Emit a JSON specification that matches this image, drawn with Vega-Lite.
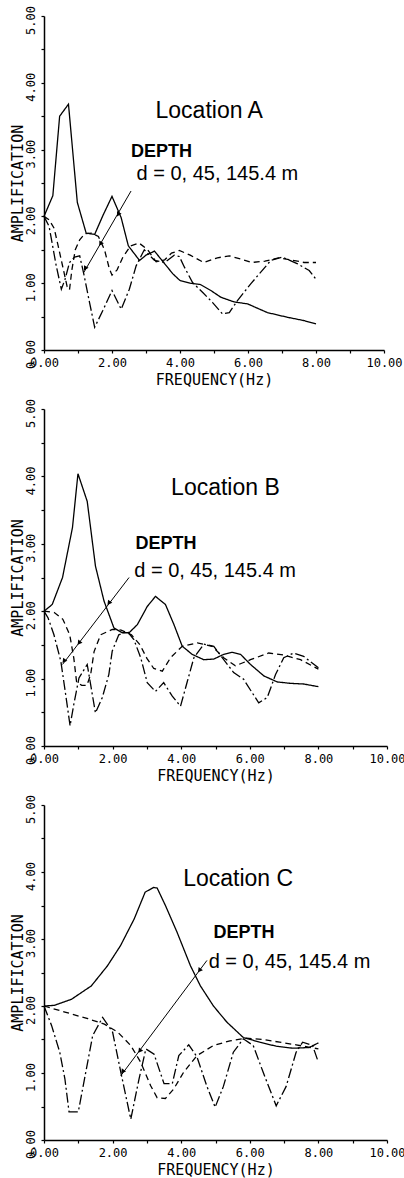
{
  "$schema": "https://vega.github.io/schema/vega-lite/v6.json",
  "padding": {"left": 10, "top": 5, "right": 0, "bottom": 2},
  "bounds": "flush",
  "spacing": 59,
  "config": {
    "view": {"stroke": null},
    "axis": {
      "domainColor": "black", "domainWidth": 1.5, "tickColor": "black", "tickWidth": 1.2, "tickSize": 3,
      "grid": false, "labelFont": "DejaVu Sans Mono", "labelFontSize": 12, "labelColor": "black",
      "titleFont": "DejaVu Sans Mono", "titleFontSize": 15, "titleFontWeight": "normal", "titleColor": "black",
      "labelPadding": 4, "titlePadding": 4, "labelOverlap": false, "labelFlush": false
    },
    "axisY": {"titlePadding": -1}
  },
  "datasets": {
    "curves": [
      {"p":"A","d":"0 m","f":0,"a":2.0},{"p":"A","d":"0 m","f":0.26,"a":2.31},{"p":"A","d":"0 m","f":0.46,"a":3.5},{"p":"A","d":"0 m","f":0.72,"a":3.68},{"p":"A","d":"0 m","f":0.98,"a":2.21},{"p":"A","d":"0 m","f":1.24,"a":1.75},{"p":"A","d":"0 m","f":1.49,"a":1.73},{"p":"A","d":"0 m","f":1.73,"a":2.01},{"p":"A","d":"0 m","f":2.0,"a":2.3},{"p":"A","d":"0 m","f":2.27,"a":1.98},{"p":"A","d":"0 m","f":2.48,"a":1.56},{"p":"A","d":"0 m","f":2.81,"a":1.34},{"p":"A","d":"0 m","f":3.0,"a":1.42},{"p":"A","d":"0 m","f":3.25,"a":1.48},{"p":"A","d":"0 m","f":3.44,"a":1.36},{"p":"A","d":"0 m","f":3.79,"a":1.14},{"p":"A","d":"0 m","f":4.0,"a":1.04},{"p":"A","d":"0 m","f":4.3,"a":1.0},{"p":"A","d":"0 m","f":4.6,"a":0.98},{"p":"A","d":"0 m","f":4.91,"a":0.89},{"p":"A","d":"0 m","f":5.2,"a":0.79},{"p":"A","d":"0 m","f":5.59,"a":0.72},{"p":"A","d":"0 m","f":5.99,"a":0.69},{"p":"A","d":"0 m","f":6.57,"a":0.56},{"p":"A","d":"0 m","f":7.16,"a":0.49},{"p":"A","d":"0 m","f":7.65,"a":0.44},{"p":"A","d":"0 m","f":8.0,"a":0.39},
      {"p":"A","d":"45 m","f":0,"a":2.0},{"p":"A","d":"45 m","f":0.15,"a":1.95},{"p":"A","d":"45 m","f":0.3,"a":1.82},{"p":"A","d":"45 m","f":0.42,"a":1.55},{"p":"A","d":"45 m","f":0.55,"a":1.25},{"p":"A","d":"45 m","f":0.68,"a":0.95},{"p":"A","d":"45 m","f":0.75,"a":0.9},{"p":"A","d":"45 m","f":0.82,"a":1.2},{"p":"A","d":"45 m","f":0.92,"a":1.5},{"p":"A","d":"45 m","f":1.05,"a":1.65},{"p":"A","d":"45 m","f":1.2,"a":1.74},{"p":"A","d":"45 m","f":1.4,"a":1.75},{"p":"A","d":"45 m","f":1.6,"a":1.7},{"p":"A","d":"45 m","f":1.78,"a":1.5},{"p":"A","d":"45 m","f":1.92,"a":1.22},{"p":"A","d":"45 m","f":2.0,"a":1.12},{"p":"A","d":"45 m","f":2.15,"a":1.2},{"p":"A","d":"45 m","f":2.32,"a":1.39},{"p":"A","d":"45 m","f":2.55,"a":1.56},{"p":"A","d":"45 m","f":2.8,"a":1.6},{"p":"A","d":"45 m","f":3.05,"a":1.5},{"p":"A","d":"45 m","f":3.3,"a":1.32},{"p":"A","d":"45 m","f":3.55,"a":1.35},{"p":"A","d":"45 m","f":3.75,"a":1.45},{"p":"A","d":"45 m","f":3.98,"a":1.49},{"p":"A","d":"45 m","f":4.3,"a":1.42},{"p":"A","d":"45 m","f":4.7,"a":1.31},{"p":"A","d":"45 m","f":5.1,"a":1.38},{"p":"A","d":"45 m","f":5.45,"a":1.41},{"p":"A","d":"45 m","f":5.8,"a":1.36},{"p":"A","d":"45 m","f":6.1,"a":1.31},{"p":"A","d":"45 m","f":6.5,"a":1.33},{"p":"A","d":"45 m","f":6.9,"a":1.38},{"p":"A","d":"45 m","f":7.25,"a":1.35},{"p":"A","d":"45 m","f":7.65,"a":1.31},{"p":"A","d":"45 m","f":8.0,"a":1.31},
      {"p":"A","d":"145.4 m","f":0,"a":2.0},{"p":"A","d":"145.4 m","f":0.15,"a":1.85},{"p":"A","d":"145.4 m","f":0.36,"a":1.26},{"p":"A","d":"145.4 m","f":0.51,"a":0.91},{"p":"A","d":"145.4 m","f":0.62,"a":1.06},{"p":"A","d":"145.4 m","f":0.75,"a":1.31},{"p":"A","d":"145.4 m","f":0.9,"a":1.39},{"p":"A","d":"145.4 m","f":1.05,"a":1.41},{"p":"A","d":"145.4 m","f":1.17,"a":1.14},{"p":"A","d":"145.4 m","f":1.34,"a":0.71},{"p":"A","d":"145.4 m","f":1.49,"a":0.34},{"p":"A","d":"145.4 m","f":1.73,"a":0.59},{"p":"A","d":"145.4 m","f":2.0,"a":0.89},{"p":"A","d":"145.4 m","f":2.27,"a":0.61},{"p":"A","d":"145.4 m","f":2.51,"a":0.91},{"p":"A","d":"145.4 m","f":2.71,"a":1.26},{"p":"A","d":"145.4 m","f":2.95,"a":1.5},{"p":"A","d":"145.4 m","f":3.25,"a":1.34},{"p":"A","d":"145.4 m","f":3.55,"a":1.31},{"p":"A","d":"145.4 m","f":3.83,"a":1.42},{"p":"A","d":"145.4 m","f":3.98,"a":1.4},{"p":"A","d":"145.4 m","f":4.13,"a":1.24},{"p":"A","d":"145.4 m","f":4.37,"a":1.01},{"p":"A","d":"145.4 m","f":4.67,"a":0.86},{"p":"A","d":"145.4 m","f":4.96,"a":0.71},{"p":"A","d":"145.4 m","f":5.25,"a":0.54},{"p":"A","d":"145.4 m","f":5.45,"a":0.56},{"p":"A","d":"145.4 m","f":5.69,"a":0.74},{"p":"A","d":"145.4 m","f":6.08,"a":0.99},{"p":"A","d":"145.4 m","f":6.67,"a":1.34},{"p":"A","d":"145.4 m","f":7.01,"a":1.39},{"p":"A","d":"145.4 m","f":7.46,"a":1.29},{"p":"A","d":"145.4 m","f":7.8,"a":1.19},{"p":"A","d":"145.4 m","f":8.0,"a":1.06},
      {"p":"B","d":"0 m","f":0,"a":2.0},{"p":"B","d":"0 m","f":0.24,"a":2.1},{"p":"B","d":"0 m","f":0.54,"a":2.5},{"p":"B","d":"0 m","f":0.83,"a":3.24},{"p":"B","d":"0 m","f":0.99,"a":4.04},{"p":"B","d":"0 m","f":1.26,"a":3.63},{"p":"B","d":"0 m","f":1.5,"a":2.67},{"p":"B","d":"0 m","f":1.75,"a":2.15},{"p":"B","d":"0 m","f":2.04,"a":1.75},{"p":"B","d":"0 m","f":2.28,"a":1.68},{"p":"B","d":"0 m","f":2.48,"a":1.68},{"p":"B","d":"0 m","f":2.72,"a":1.8},{"p":"B","d":"0 m","f":3.01,"a":2.07},{"p":"B","d":"0 m","f":3.25,"a":2.22},{"p":"B","d":"0 m","f":3.54,"a":2.1},{"p":"B","d":"0 m","f":3.79,"a":1.8},{"p":"B","d":"0 m","f":4.03,"a":1.48},{"p":"B","d":"0 m","f":4.32,"a":1.36},{"p":"B","d":"0 m","f":4.66,"a":1.28},{"p":"B","d":"0 m","f":4.95,"a":1.29},{"p":"B","d":"0 m","f":5.24,"a":1.36},{"p":"B","d":"0 m","f":5.49,"a":1.39},{"p":"B","d":"0 m","f":5.73,"a":1.36},{"p":"B","d":"0 m","f":6.02,"a":1.21},{"p":"B","d":"0 m","f":6.41,"a":1.04},{"p":"B","d":"0 m","f":6.8,"a":0.95},{"p":"B","d":"0 m","f":7.18,"a":0.93},{"p":"B","d":"0 m","f":7.57,"a":0.92},{"p":"B","d":"0 m","f":8.0,"a":0.88},
      {"p":"B","d":"45 m","f":0,"a":2.0},{"p":"B","d":"45 m","f":0.3,"a":1.98},{"p":"B","d":"45 m","f":0.55,"a":1.88},{"p":"B","d":"45 m","f":0.75,"a":1.65},{"p":"B","d":"45 m","f":0.87,"a":1.3},{"p":"B","d":"45 m","f":0.95,"a":0.95},{"p":"B","d":"45 m","f":1.1,"a":0.9},{"p":"B","d":"45 m","f":1.25,"a":0.9},{"p":"B","d":"45 m","f":1.36,"a":1.06},{"p":"B","d":"45 m","f":1.46,"a":1.4},{"p":"B","d":"45 m","f":1.65,"a":1.65},{"p":"B","d":"45 m","f":1.99,"a":1.73},{"p":"B","d":"45 m","f":2.25,"a":1.72},{"p":"B","d":"45 m","f":2.55,"a":1.65},{"p":"B","d":"45 m","f":2.8,"a":1.5},{"p":"B","d":"45 m","f":3.0,"a":1.3},{"p":"B","d":"45 m","f":3.2,"a":1.15},{"p":"B","d":"45 m","f":3.45,"a":1.11},{"p":"B","d":"45 m","f":3.69,"a":1.31},{"p":"B","d":"45 m","f":4.03,"a":1.48},{"p":"B","d":"45 m","f":4.47,"a":1.53},{"p":"B","d":"45 m","f":4.9,"a":1.48},{"p":"B","d":"45 m","f":5.24,"a":1.31},{"p":"B","d":"45 m","f":5.58,"a":1.19},{"p":"B","d":"45 m","f":6.02,"a":1.28},{"p":"B","d":"45 m","f":6.55,"a":1.38},{"p":"B","d":"45 m","f":6.98,"a":1.35},{"p":"B","d":"45 m","f":7.48,"a":1.28},{"p":"B","d":"45 m","f":8.0,"a":1.14},
      {"p":"B","d":"145.4 m","f":0,"a":2.0},{"p":"B","d":"145.4 m","f":0.12,"a":1.9},{"p":"B","d":"145.4 m","f":0.29,"a":1.65},{"p":"B","d":"145.4 m","f":0.49,"a":1.26},{"p":"B","d":"145.4 m","f":0.63,"a":0.77},{"p":"B","d":"145.4 m","f":0.76,"a":0.3},{"p":"B","d":"145.4 m","f":0.87,"a":0.62},{"p":"B","d":"145.4 m","f":1.02,"a":1.01},{"p":"B","d":"145.4 m","f":1.26,"a":1.21},{"p":"B","d":"145.4 m","f":1.36,"a":0.91},{"p":"B","d":"145.4 m","f":1.5,"a":0.49},{"p":"B","d":"145.4 m","f":1.7,"a":0.72},{"p":"B","d":"145.4 m","f":1.89,"a":1.06},{"p":"B","d":"145.4 m","f":1.99,"a":1.41},{"p":"B","d":"145.4 m","f":2.18,"a":1.65},{"p":"B","d":"145.4 m","f":2.43,"a":1.7},{"p":"B","d":"145.4 m","f":2.62,"a":1.58},{"p":"B","d":"145.4 m","f":2.82,"a":1.31},{"p":"B","d":"145.4 m","f":3.01,"a":0.94},{"p":"B","d":"145.4 m","f":3.25,"a":0.81},{"p":"B","d":"145.4 m","f":3.49,"a":0.94},{"p":"B","d":"145.4 m","f":3.74,"a":0.74},{"p":"B","d":"145.4 m","f":3.98,"a":0.59},{"p":"B","d":"145.4 m","f":4.18,"a":0.96},{"p":"B","d":"145.4 m","f":4.37,"a":1.31},{"p":"B","d":"145.4 m","f":4.66,"a":1.51},{"p":"B","d":"145.4 m","f":4.95,"a":1.48},{"p":"B","d":"145.4 m","f":5.24,"a":1.28},{"p":"B","d":"145.4 m","f":5.53,"a":1.09},{"p":"B","d":"145.4 m","f":5.82,"a":0.99},{"p":"B","d":"145.4 m","f":6.07,"a":0.79},{"p":"B","d":"145.4 m","f":6.26,"a":0.64},{"p":"B","d":"145.4 m","f":6.51,"a":0.72},{"p":"B","d":"145.4 m","f":6.75,"a":1.06},{"p":"B","d":"145.4 m","f":6.99,"a":1.31},{"p":"B","d":"145.4 m","f":7.28,"a":1.38},{"p":"B","d":"145.4 m","f":7.57,"a":1.33},{"p":"B","d":"145.4 m","f":8.0,"a":1.16},
      {"p":"C","d":"0 m","f":0,"a":2.0},{"p":"C","d":"0 m","f":0.3,"a":2.01},{"p":"C","d":"0 m","f":0.8,"a":2.1},{"p":"C","d":"0 m","f":1.38,"a":2.3},{"p":"C","d":"0 m","f":1.85,"a":2.6},{"p":"C","d":"0 m","f":2.23,"a":2.9},{"p":"C","d":"0 m","f":2.63,"a":3.3},{"p":"C","d":"0 m","f":2.95,"a":3.7},{"p":"C","d":"0 m","f":3.2,"a":3.77},{"p":"C","d":"0 m","f":3.3,"a":3.76},{"p":"C","d":"0 m","f":3.54,"a":3.5},{"p":"C","d":"0 m","f":3.88,"a":3.1},{"p":"C","d":"0 m","f":4.27,"a":2.6},{"p":"C","d":"0 m","f":4.56,"a":2.3},{"p":"C","d":"0 m","f":4.94,"a":2.0},{"p":"C","d":"0 m","f":5.33,"a":1.76},{"p":"C","d":"0 m","f":5.81,"a":1.53},{"p":"C","d":"0 m","f":6.29,"a":1.46},{"p":"C","d":"0 m","f":6.77,"a":1.4},{"p":"C","d":"0 m","f":7.25,"a":1.37},{"p":"C","d":"0 m","f":7.73,"a":1.38},{"p":"C","d":"0 m","f":8.0,"a":1.45},
      {"p":"C","d":"45 m","f":0,"a":2.0},{"p":"C","d":"45 m","f":0.61,"a":1.91},{"p":"C","d":"45 m","f":1.28,"a":1.81},{"p":"C","d":"45 m","f":1.76,"a":1.73},{"p":"C","d":"45 m","f":2.15,"a":1.61},{"p":"C","d":"45 m","f":2.53,"a":1.41},{"p":"C","d":"45 m","f":2.82,"a":1.16},{"p":"C","d":"45 m","f":3.11,"a":0.81},{"p":"C","d":"45 m","f":3.3,"a":0.63},{"p":"C","d":"45 m","f":3.54,"a":0.62},{"p":"C","d":"45 m","f":3.78,"a":0.76},{"p":"C","d":"45 m","f":4.07,"a":1.01},{"p":"C","d":"45 m","f":4.46,"a":1.26},{"p":"C","d":"45 m","f":4.94,"a":1.41},{"p":"C","d":"45 m","f":5.42,"a":1.48},{"p":"C","d":"45 m","f":5.9,"a":1.52},{"p":"C","d":"45 m","f":6.39,"a":1.5},{"p":"C","d":"45 m","f":6.87,"a":1.46},{"p":"C","d":"45 m","f":7.35,"a":1.42},{"p":"C","d":"45 m","f":8.0,"a":1.36},
      {"p":"C","d":"145.4 m","f":0,"a":2.0},{"p":"C","d":"145.4 m","f":0.22,"a":1.71},{"p":"C","d":"145.4 m","f":0.46,"a":1.31},{"p":"C","d":"145.4 m","f":0.61,"a":0.91},{"p":"C","d":"145.4 m","f":0.73,"a":0.42},{"p":"C","d":"145.4 m","f":1.0,"a":0.42},{"p":"C","d":"145.4 m","f":1.18,"a":0.91},{"p":"C","d":"145.4 m","f":1.42,"a":1.56},{"p":"C","d":"145.4 m","f":1.71,"a":1.83},{"p":"C","d":"145.4 m","f":2.0,"a":1.61},{"p":"C","d":"145.4 m","f":2.24,"a":1.01},{"p":"C","d":"145.4 m","f":2.53,"a":0.31},{"p":"C","d":"145.4 m","f":2.77,"a":0.91},{"p":"C","d":"145.4 m","f":2.97,"a":1.36},{"p":"C","d":"145.4 m","f":3.21,"a":1.28},{"p":"C","d":"145.4 m","f":3.5,"a":0.84},{"p":"C","d":"145.4 m","f":3.74,"a":0.84},{"p":"C","d":"145.4 m","f":3.93,"a":1.26},{"p":"C","d":"145.4 m","f":4.22,"a":1.42},{"p":"C","d":"145.4 m","f":4.46,"a":1.24},{"p":"C","d":"145.4 m","f":4.75,"a":0.8},{"p":"C","d":"145.4 m","f":4.99,"a":0.49},{"p":"C","d":"145.4 m","f":5.23,"a":0.8},{"p":"C","d":"145.4 m","f":5.52,"a":1.31},{"p":"C","d":"145.4 m","f":5.81,"a":1.51},{"p":"C","d":"145.4 m","f":6.1,"a":1.41},{"p":"C","d":"145.4 m","f":6.39,"a":1.01},{"p":"C","d":"145.4 m","f":6.77,"a":0.51},{"p":"C","d":"145.4 m","f":7.06,"a":0.8},{"p":"C","d":"145.4 m","f":7.35,"a":1.31},{"p":"C","d":"145.4 m","f":7.54,"a":1.46},{"p":"C","d":"145.4 m","f":7.83,"a":1.41},{"p":"C","d":"145.4 m","f":8.0,"a":1.16}
    ],
    "arrows": [
      {"p":"A","f":2.56,"a":2.38,"f2":1.17,"a2":1.16},
      {"p":"B","f":2.48,"a":2.5,"f2":0.54,"a2":1.21},
      {"p":"C","f":4.75,"a":2.68,"f2":2.24,"a2":0.96}
    ],
    "heads": [
      {"p":"A","f":1.21,"a":1.22},{"p":"A","f":2.18,"a":2.03},{"p":"A","f":1.66,"a":1.59},
      {"p":"B","f":0.58,"a":1.26},{"p":"B","f":1.02,"a":1.53},{"p":"B","f":1.89,"a":2.12},
      {"p":"C","f":2.29,"a":1.02},{"p":"C","f":2.79,"a":1.33},{"p":"C","f":4.53,"a":2.53}
    ],
    "labels": [
      {"p":"A","k":"loc","f":4.86,"a":3.58,"t":"Location A"},
      {"p":"A","k":"dep","f":2.56,"a":2.97,"t":"DEPTH"},
      {"p":"A","k":"d","f":2.72,"a":2.64,"t":"d = 0, 45, 145.4 m"},
      {"p":"B","k":"loc","f":5.29,"a":3.83,"t":"Location B"},
      {"p":"B","k":"dep","f":2.67,"a":2.99,"t":"DEPTH"},
      {"p":"B","k":"d","f":2.63,"a":2.6,"t":"d = 0, 45, 145.4 m"},
      {"p":"C","k":"loc","f":5.66,"a":3.9,"t":"Location C"},
      {"p":"C","k":"dep","f":4.94,"a":3.09,"t":"DEPTH"},
      {"p":"C","k":"d","f":4.8,"a":2.66,"t":"d = 0, 45, 145.4 m"}
    ]
  },
  "vconcat": [
    {
      "width": 340, "height": 334,
      "encoding": {
        "x": {"field": "f", "type": "quantitative", "scale": {"domain": [0, 10], "nice": false}, "axis": {"values": [0,1,2,3,4,5,6,7,8,9,10], "labelExpr": "datum.value % 2 === 0 ? format(datum.value, '.2f') : ''", "title": "FREQUENCY(Hz)"}},
        "y": {"field": "a", "type": "quantitative", "scale": {"domain": [0, 5], "nice": false}, "axis": {"values": [0,0.5,1,1.5,2,2.5,3,3.5,4,4.5,5], "labelExpr": "datum.value % 1 === 0 ? format(datum.value, '.2f') : ''", "labelAngle": -90, "labelOffset": 4, "title": "AMPLIFICATION"}}
      },
      "layer": [
        {"data": {"name": "curves"}, "transform": [{"filter": "datum.p === 'A'"}], "mark": {"type": "line", "color": "black", "strokeWidth": 1.3}, "encoding": {"strokeDash": {"field": "d", "type": "nominal", "scale": {"domain": ["0 m", "45 m", "145.4 m"], "range": [[1, 0], [6, 4], [10, 3, 2, 3]]}, "legend": null}}},
        {"data": {"name": "arrows"}, "transform": [{"filter": "datum.p === 'A'"}], "mark": {"type": "rule", "color": "black", "strokeWidth": 1}, "encoding": {"x2": {"field": "f2"}, "y2": {"field": "a2"}}},
        {"data": {"name": "heads"}, "transform": [{"filter": "datum.p === 'A'"}], "mark": {"type": "point", "shape": "triangle-up", "filled": true, "color": "black", "opacity": 1, "size": 28, "angle": 210}},
        {"data": {"name": "labels"}, "transform": [{"filter": "datum.p === 'A' && datum.k === 'loc'"}], "mark": {"type": "text", "font": "Liberation Sans", "fontSize": 23, "align": "center", "baseline": "middle", "color": "black"}, "encoding": {"text": {"field": "t"}}},
        {"data": {"name": "labels"}, "transform": [{"filter": "datum.p === 'A' && datum.k === 'dep'"}], "mark": {"type": "text", "font": "Liberation Sans", "fontSize": 18, "fontWeight": "bold", "align": "left", "baseline": "middle", "color": "black"}, "encoding": {"text": {"field": "t"}}},
        {"data": {"name": "labels"}, "transform": [{"filter": "datum.p === 'A' && datum.k === 'd'"}], "mark": {"type": "text", "font": "Liberation Sans", "fontSize": 20, "align": "left", "baseline": "middle", "color": "black"}, "encoding": {"text": {"field": "t"}}}
      ]
    },
    {
      "width": 343, "height": 337,
      "encoding": {
        "x": {"field": "f", "type": "quantitative", "scale": {"domain": [0, 10], "nice": false}, "axis": {"values": [0,1,2,3,4,5,6,7,8,9,10], "labelExpr": "datum.value % 2 === 0 ? format(datum.value, '.2f') : ''", "title": "FREQUENCY(Hz)"}},
        "y": {"field": "a", "type": "quantitative", "scale": {"domain": [0, 5], "nice": false}, "axis": {"values": [0,0.5,1,1.5,2,2.5,3,3.5,4,4.5,5], "labelExpr": "datum.value % 1 === 0 ? format(datum.value, '.2f') : ''", "labelAngle": -90, "labelOffset": 4, "title": "AMPLIFICATION"}}
      },
      "layer": [
        {"data": {"name": "curves"}, "transform": [{"filter": "datum.p === 'B'"}], "mark": {"type": "line", "color": "black", "strokeWidth": 1.3}, "encoding": {"strokeDash": {"field": "d", "type": "nominal", "scale": {"domain": ["0 m", "45 m", "145.4 m"], "range": [[1, 0], [6, 4], [10, 3, 2, 3]]}, "legend": null}}},
        {"data": {"name": "arrows"}, "transform": [{"filter": "datum.p === 'B'"}], "mark": {"type": "rule", "color": "black", "strokeWidth": 1}, "encoding": {"x2": {"field": "f2"}, "y2": {"field": "a2"}}},
        {"data": {"name": "heads"}, "transform": [{"filter": "datum.p === 'B'"}], "mark": {"type": "point", "shape": "triangle-up", "filled": true, "color": "black", "opacity": 1, "size": 28, "angle": 217}},
        {"data": {"name": "labels"}, "transform": [{"filter": "datum.p === 'B' && datum.k === 'loc'"}], "mark": {"type": "text", "font": "Liberation Sans", "fontSize": 23, "align": "center", "baseline": "middle", "color": "black"}, "encoding": {"text": {"field": "t"}}},
        {"data": {"name": "labels"}, "transform": [{"filter": "datum.p === 'B' && datum.k === 'dep'"}], "mark": {"type": "text", "font": "Liberation Sans", "fontSize": 18, "fontWeight": "bold", "align": "left", "baseline": "middle", "color": "black"}, "encoding": {"text": {"field": "t"}}},
        {"data": {"name": "labels"}, "transform": [{"filter": "datum.p === 'B' && datum.k === 'd'"}], "mark": {"type": "text", "font": "Liberation Sans", "fontSize": 20, "align": "left", "baseline": "middle", "color": "black"}, "encoding": {"text": {"field": "t"}}}
      ]
    },
    {
      "width": 343, "height": 335,
      "encoding": {
        "x": {"field": "f", "type": "quantitative", "scale": {"domain": [0, 10], "nice": false}, "axis": {"values": [0,1,2,3,4,5,6,7,8,9,10], "labelExpr": "datum.value % 2 === 0 ? format(datum.value, '.2f') : ''", "title": "FREQUENCY(Hz)"}},
        "y": {"field": "a", "type": "quantitative", "scale": {"domain": [0, 5], "nice": false}, "axis": {"values": [0,0.5,1,1.5,2,2.5,3,3.5,4,4.5,5], "labelExpr": "datum.value % 1 === 0 ? format(datum.value, '.2f') : ''", "labelAngle": -90, "labelOffset": 4, "title": "AMPLIFICATION"}}
      },
      "layer": [
        {"data": {"name": "curves"}, "transform": [{"filter": "datum.p === 'C'"}], "mark": {"type": "line", "color": "black", "strokeWidth": 1.3}, "encoding": {"strokeDash": {"field": "d", "type": "nominal", "scale": {"domain": ["0 m", "45 m", "145.4 m"], "range": [[1, 0], [6, 4], [10, 3, 2, 3]]}, "legend": null}}},
        {"data": {"name": "arrows"}, "transform": [{"filter": "datum.p === 'C'"}], "mark": {"type": "rule", "color": "black", "strokeWidth": 1}, "encoding": {"x2": {"field": "f2"}, "y2": {"field": "a2"}}},
        {"data": {"name": "heads"}, "transform": [{"filter": "datum.p === 'C'"}], "mark": {"type": "point", "shape": "triangle-up", "filled": true, "color": "black", "opacity": 1, "size": 28, "angle": 217}},
        {"data": {"name": "labels"}, "transform": [{"filter": "datum.p === 'C' && datum.k === 'loc'"}], "mark": {"type": "text", "font": "Liberation Sans", "fontSize": 23, "align": "center", "baseline": "middle", "color": "black"}, "encoding": {"text": {"field": "t"}}},
        {"data": {"name": "labels"}, "transform": [{"filter": "datum.p === 'C' && datum.k === 'dep'"}], "mark": {"type": "text", "font": "Liberation Sans", "fontSize": 18, "fontWeight": "bold", "align": "left", "baseline": "middle", "color": "black"}, "encoding": {"text": {"field": "t"}}},
        {"data": {"name": "labels"}, "transform": [{"filter": "datum.p === 'C' && datum.k === 'd'"}], "mark": {"type": "text", "font": "Liberation Sans", "fontSize": 20, "align": "left", "baseline": "middle", "color": "black"}, "encoding": {"text": {"field": "t"}}}
      ]
    }
  ]
}
